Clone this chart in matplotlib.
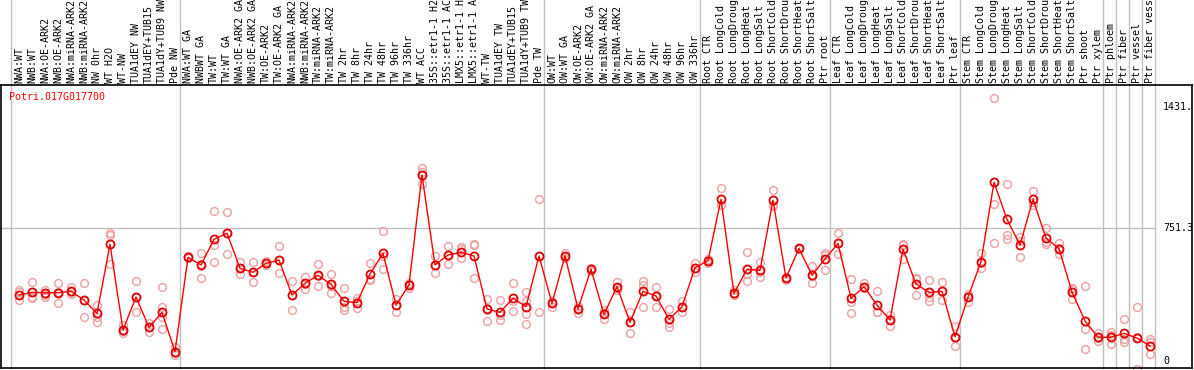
import matplotlib
matplotlib.use("Agg")
import matplotlib.pyplot as plt
import numpy as np

gene = "Potri.017G017700"

labels = [
    "NWA:WT", "NWB:WT", "NWA:OE-ARK2", "NWB:OE-ARK2", "NWA:miRNA-ARK2", "NWB:miRNA-ARK2",
    "NW 0hr", "WT H2O", "WT-NW", "TUA1dEY NW", "TUA1dEY+TUB15", "TUA1dY+TUB9 NW", "Pde NW",
    "NWA:WT GA", "NWBWT GA", "TW:WT", "TW:WT GA", "NWA:OE-ARK2 GA", "NWB:OE-ARK2 GA",
    "TW:OE-ARK2", "TW:OE-ARK2 GA", "NWA:miRNA-ARK2", "NWB:miRNA-ARK2", "TW:miRNA-ARK2",
    "TW:miRNA-ARK2", "TW 2hr", "TW 8hr", "TW 24hr", "TW 48hr", "TW 96hr", "TW 336hr",
    "WT ACC", "35S::etr1-1 H2", "35S::etr1-1 AC", "LMX5::etr1-1 H", "LMX5::etr1-1 A",
    "WT-TW", "TUA1dEY TW", "TUA1dEY+TUB15", "TUA1dY+TUB9 TW", "Pde TW",
    "OW:WT", "OW:WT GA", "OW:OE-ARK2", "OW:OE-ARK2 GA", "OW:miRNA-ARK2", "OW:miRNA-ARK2",
    "OW 2hr", "OW 8hr", "OW 24hr", "OW 48hr", "OW 96hr", "OW 336hr",
    "Root CTR", "Root LongCold", "Root LongDroug", "Root LongHeat", "Root LongSalt",
    "Root ShortCold", "Root ShortDrou", "Root ShortHeat", "Root ShortSalt", "Ptr root",
    "Leaf CTR", "Leaf LongCold", "Leaf LongDroug", "Leaf LongHeat", "Leaf LongSalt",
    "Leaf ShortCold", "Leaf ShortDrou", "Leaf ShortHeat", "Leaf ShortSalt", "Ptr leaf",
    "Stem CTR", "Stem LongCold", "Stem LongDroug", "Stem LongHeat", "Stem LongSalt",
    "Stem ShortCold", "Stem ShortDrou", "Stem ShortHeat", "Stem ShortSalt", "Ptr shoot",
    "Ptr xylem", "Ptr phloem", "Ptr fiber", "Ptr vessel", "Ptr fiber vessel",
]

means = [
    373, 388, 386, 386, 394, 345, 270, 658, 177, 362, 192, 276, 55,
    585, 542, 686, 720, 523, 501, 551, 570, 373, 439, 484, 433, 338, 331, 491,
    607, 317, 430, 1047, 542, 598, 613, 592, 295, 276, 355, 308, 592,
    327, 594, 295, 519, 265, 420, 220, 394, 368, 237, 308, 527,
    566, 911, 383, 518, 512, 905, 469, 635, 484, 576,
    663, 355, 420, 317, 233, 630, 435, 388, 394, 139,
    360, 561, 1006, 798, 654, 911, 693, 633, 390, 228, 136, 136, 158, 132, 87,
]

replicates = [
    [401, 392, 345], [444, 364, 355], [401, 373, 364], [439, 327, 390], [420, 379, 390],
    [439, 252, 345], [317, 252, 220], [720, 710, 546], [205, 158, 170], [452, 276, 360],
    [214, 164, 195], [416, 308, 250, 182], [83, 36, 45],
    [590, 580, 585], [607, 467, 550], [845, 654, 560], [838, 601, 720], [557, 489, 523],
    [561, 444, 500], [566, 551, 540], [648, 495, 570], [452, 289, 375], [476, 407, 435],
    [547, 424, 480], [491, 383, 425], [411, 308, 289], [355, 299, 340], [553, 458, 465],
    [733, 519, 590], [349, 280, 320], [443, 411, 435], [1085, 995, 1065], [592, 495, 540],
    [648, 547, 600], [641, 579, 630], [660, 655, 467], [349, 227, 300], [345, 233, 260],
    [439, 284, 340], [388, 267, 211, 340], [912, 276, 590],
    [308, 340, 330], [611, 580, 590], [271, 300, 310], [519, 510, 525], [289, 237, 270],
    [448, 400, 415], [280, 162, 220], [454, 429, 308], [420, 308, 375], [295, 214, 196],
    [342, 280, 305], [555, 504, 525],
    [575, 551, 570], [973, 879, 880], [401, 375, 375], [613, 454, 490], [561, 476, 500],
    [963, 873, 880], [475, 460, 470], [640, 635, 630], [537, 439, 480], [611, 514, 600],
    [720, 604, 665], [461, 271, 335], [443, 410, 410], [396, 276, 280], [261, 201, 240],
    [660, 574, 655], [467, 373, 465], [458, 342, 360], [444, 345, 395], [201, 87, 130],
    [379, 336, 365], [607, 523, 555], [1478, 882, 663], [995, 710, 686], [701, 585, 675],
    [958, 879, 895], [748, 660, 670], [663, 601, 635], [407, 351, 410], [424, 181, 68],
    [162, 117, 130], [164, 96, 150], [237, 112, 125], [304, -44, 135], [125, 112, 40],
]

group_starts = [0, 13, 41, 53, 63, 73, 84, 85, 86, 87]
y_ticks = [1431, 751.3, 0]
y_tick_labels = ["1431.", "751.3", "0"]
grid_value = 751.3

W, H = 1194, 370
fig = plt.figure(figsize=(W / 100, H / 100), dpi=100)
# plot frame in pixel coordinates
px_left, px_right, px_top, px_bottom = 1, 1192, 85, 368
ax = fig.add_axes([px_left / W, (H - px_bottom) / H,
                   (px_right - px_left) / W, (px_bottom - px_top) / H])

step = 13.0
first_px = 19.0
ax.set_xlim((px_left - first_px) / step, (px_right - first_px) / step)
ppu = 0.1781
zero_px = 361.5
ax.set_ylim((zero_px - px_bottom) / ppu, (zero_px - px_top) / ppu)
ax.set_xticks([])
ax.set_yticks([])
for s in ax.spines.values():
    s.set_color("black")
    s.set_linewidth(1.2)

font = "DejaVu Sans Mono"
fs = 7.2
grey = "#c0c0c0"

n = len(labels)
x = np.arange(n)

# group separators, extending into the label area
top_frac = (px_bottom - 0) / (px_bottom - px_top)
for g in group_starts:
    ax.axvline(g - 8 / step, ymin=0, ymax=top_frac, color=grey, lw=1, clip_on=False, zorder=0)
ax.axvline(n - 1 + 5 / step, ymin=0, ymax=top_frac, color=grey, lw=1, clip_on=False, zorder=0)

# horizontal grid
ax.plot([ax.get_xlim()[0], n - 1 + 5 / step], [grid_value, grid_value], color=grey, lw=1, zorder=0)

# replicates
for i, reps in enumerate(replicates):
    ax.plot([i] * len(reps), reps, linestyle="none", marker="o", markersize=5.6,
            markerfacecolor="none", markeredgecolor="#f0a0a0", markeredgewidth=1.0,
            clip_on=False, zorder=2)

# mean line and markers
ax.plot(x, means, color="#ff0000", lw=1.0, zorder=3)
ax.plot(x, means, linestyle="none", marker="o", markersize=5.8, markerfacecolor="none",
        markeredgecolor="#e00000", markeredgewidth=1.3, zorder=4)

# top labels
trans = ax.get_xaxis_transform()
for i, lab in enumerate(labels):
    ax.text(i, 1 + 2 / (px_bottom - px_top), lab, rotation=90, ha="center", va="bottom",
            transform=trans, fontsize=fs, family=font, color="black", clip_on=False)

# gene title
ax.text((9.5 - first_px) / step, (zero_px - 97) / ppu, gene, color="#ff0000",
        fontsize=fs, family=font, ha="left", va="center")

# right value labels
for v, t in zip(y_ticks, y_tick_labels):
    ax.text((1163 - first_px) / step, v, t, fontsize=fs, family=font, ha="left",
            va="center", color="black", clip_on=True)

fig.savefig("out.png", dpi=100)
